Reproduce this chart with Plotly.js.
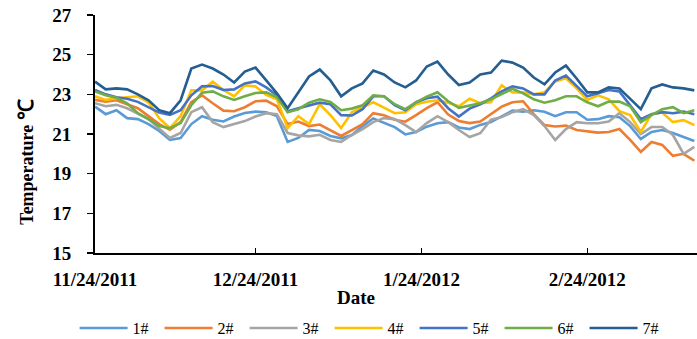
<!DOCTYPE html>
<html>
<head>
<meta charset="utf-8">
<script src="https://cdn.plot.ly/plotly-3.0.1.min.js"></script>
<style>
  html, body { margin: 0; padding: 0; background: #fff; }
  #chart { width: 697px; height: 339px; }
</style>
</head>
<body>
<div id="chart"></div>
<script>
// Sampling dates (every second day)
const dates = [
  '2011-11-24','2011-11-26','2011-11-28','2011-11-30','2011-12-02','2011-12-04','2011-12-06','2011-12-08',
  '2011-12-10','2011-12-12','2011-12-14','2011-12-16','2011-12-18','2011-12-20','2011-12-22','2011-12-24',
  '2011-12-26','2011-12-28','2011-12-30','2012-01-01','2012-01-03','2012-01-05','2012-01-07','2012-01-09',
  '2012-01-11','2012-01-13','2012-01-15','2012-01-17','2012-01-19','2012-01-21','2012-01-23','2012-01-25',
  '2012-01-27','2012-01-29','2012-01-31','2012-02-02','2012-02-04','2012-02-06','2012-02-08','2012-02-10',
  '2012-02-12','2012-02-14','2012-02-16','2012-02-18','2012-02-20','2012-02-22','2012-02-24','2012-02-26',
  '2012-02-28','2012-03-01','2012-03-03','2012-03-05','2012-03-07','2012-03-09','2012-03-11','2012-03-13',
  '2012-03-15'
];

// Temperature (°C) at each monitoring point
const s1 = [22.38,22.0,22.2,21.8,21.75,21.5,21.15,20.7,20.8,21.5,21.9,21.72,21.63,21.88,22.06,22.13,
  22.1,21.9,20.6,20.8,21.21,21.15,20.9,20.78,20.95,21.4,21.78,21.55,21.35,20.98,21.1,21.37,
  21.54,21.6,21.33,21.25,21.46,21.6,21.9,22.18,22.13,22.2,22.12,21.9,22.1,22.1,21.72,21.75,
  21.9,21.85,21.4,20.75,21.1,21.2,21.05,20.85,20.65];
const s2 = [22.72,22.63,22.7,22.5,22.3,21.9,21.5,21.21,21.6,22.6,22.95,22.55,22.18,22.15,22.35,22.65,
  22.68,22.4,21.5,21.63,21.4,21.48,21.2,20.9,21.2,21.5,22.05,21.95,21.72,21.62,21.95,22.3,
  22.6,21.98,21.66,21.55,21.63,22.0,22.38,22.6,22.65,22.0,21.45,21.38,21.42,21.2,21.15,21.07,
  21.1,21.25,20.7,20.1,20.6,20.45,19.9,20.0,19.65];
const s3 = [22.55,22.4,22.47,22.3,22.03,21.75,21.27,20.8,21.05,22.1,22.35,21.6,21.35,21.5,21.65,21.88,
  22.05,22.0,21.05,20.93,20.88,20.96,20.7,20.6,20.95,21.25,21.6,21.8,21.75,21.45,21.1,21.55,
  21.9,21.6,21.2,20.85,21.04,21.72,21.85,22.1,22.25,21.95,21.4,20.7,21.25,21.6,21.54,21.54,
  21.63,22.05,21.6,21.0,21.35,21.35,20.95,20.0,20.35];
const s4 = [22.9,22.72,22.8,22.85,22.9,22.6,21.8,21.3,21.9,23.2,23.2,23.64,23.22,22.9,23.45,23.4,
  22.97,22.75,21.3,21.9,21.5,22.5,21.95,21.3,22.1,22.35,22.6,22.33,22.05,22.1,22.5,22.63,
  22.7,22.58,22.4,22.78,22.55,22.6,23.45,23.1,23.1,23.0,23.1,23.65,23.81,23.3,22.72,22.95,
  22.75,22.15,21.96,21.1,22.0,22.08,21.6,21.7,21.45];
const s5 = [23.22,23.0,22.85,22.78,22.62,22.33,22.08,21.96,22.2,22.95,23.4,23.42,23.22,23.25,23.55,23.65,
  23.35,22.95,22.15,22.3,22.45,22.58,22.5,21.95,21.93,22.25,22.9,22.9,22.45,22.2,22.6,22.8,
  22.88,22.3,21.88,22.28,22.5,22.8,23.15,23.4,23.3,23.0,23.0,23.7,23.95,23.45,22.9,23.05,
  23.22,23.15,22.47,21.75,22.0,22.1,22.05,22.13,22.0];
const s6 = [23.15,22.95,22.83,22.55,22.05,21.75,21.4,21.29,21.55,22.45,23.08,23.15,22.9,22.72,22.9,23.07,
  23.1,22.85,22.1,22.25,22.58,22.75,22.62,22.2,22.28,22.45,22.95,22.9,22.5,22.25,22.6,22.88,
  23.1,22.65,22.32,22.42,22.55,22.75,23.0,23.28,23.05,22.75,22.58,22.7,22.9,22.9,22.6,22.4,
  22.63,22.63,22.4,21.6,21.95,22.25,22.35,22.05,22.2];
const s7 = [23.64,23.25,23.3,23.25,23.0,22.7,22.2,22.05,22.7,24.3,24.5,24.3,24.0,23.6,24.15,24.35,
  23.7,23.05,22.3,23.1,23.9,24.25,23.7,22.9,23.3,23.55,24.2,24.0,23.6,23.35,23.7,24.4,
  24.65,24.0,23.47,23.6,24.0,24.1,24.7,24.6,24.35,23.85,23.5,24.1,24.45,23.8,23.1,23.1,
  23.35,23.3,22.8,22.25,23.3,23.5,23.35,23.3,23.2];

const seriesNames = ['1#','2#','3#','4#','5#','6#','7#'];
const seriesColors = ['#5B9BD5','#ED7D31','#A5A5A5','#FFC000','#4472C4','#70AD47','#255E91'];

const tickDates = ['2011-11-24','2011-12-24','2012-01-24','2012-02-24'];
const tickLabels = ['11/24/2011','12/24/2011','1/24/2012','2/24/2012'];
const yTicks = [15,17,19,21,23,25,27];

const serif = '"Liberation Serif", "Times New Roman", serif';

const traces = [s1,s2,s3,s4,s5,s6,s7].map((vals, i) => ({
  type: 'scatter',
  mode: 'lines',
  x: dates,
  y: vals,
  name: seriesNames[i],
  line: { color: seriesColors[i], width: 2.6 }
}));

const layout = {
  width: 697,
  height: 339,
  margin: { l: 95, r: 0, t: 15, b: 86 },
  paper_bgcolor: '#fff',
  plot_bgcolor: '#fff',
  showlegend: true,
  legend: {
    orientation: 'h',
    x: 0.107, xanchor: 'left', xref: 'container',
    y: 0.032, yanchor: 'middle', yref: 'container',
    font: { family: serif, size: 16, color: '#000' },
    itemwidth: 48,
    entrywidth: 22, entrywidthmode: 'pixels',
    traceorder: 'normal'
  },
  xaxis: {
    type: 'date',
    range: ['2011-11-24', '2012-03-15 12:00'],
    tickmode: 'array',
    tickvals: tickDates,
    ticktext: tickLabels,
    ticks: 'inside',
    ticklen: 5,
    tickwidth: 1.5,
    tickcolor: '#000',
    showline: true,
    linecolor: '#000',
    linewidth: 2,
    showgrid: false,
    zeroline: false,
    ticklabelstandoff: 8,
    tickfont: { family: serif, size: 19, color: '#000', weight: 'bold' }
  },
  yaxis: {
    range: [15, 27],
    tickmode: 'array',
    tickvals: yTicks,
    ticks: 'outside',
    ticklen: 6,
    tickwidth: 1.5,
    tickcolor: '#000',
    showline: true,
    linecolor: '#000',
    linewidth: 2,
    showgrid: false,
    zeroline: false,
    ticklabelstandoff: 12,
    tickfont: { family: serif, size: 19, color: '#000', weight: 'bold' }
  },
  annotations: [
    {
      // x-axis title
      text: '<b>Date</b>',
      xref: 'paper', yref: 'paper',
      x: 0.4336, y: -0.189,
      xanchor: 'center', yanchor: 'middle',
      showarrow: false,
      font: { family: serif, size: 19, color: '#000' }
    },
    {
      // y-axis title
      text: '<b>Temperature <span style="font-size:21px">℃</span></b>',
      textangle: -90,
      xref: 'paper', yref: 'paper',
      x: -0.116, y: 0.38,
      xanchor: 'center', yanchor: 'middle',
      showarrow: false,
      font: { family: serif, size: 18, color: '#000' }
    }
  ]
};

Plotly.newPlot('chart', traces, layout, { displayModeBar: false, staticPlot: true });
</script>
</body>
</html>
